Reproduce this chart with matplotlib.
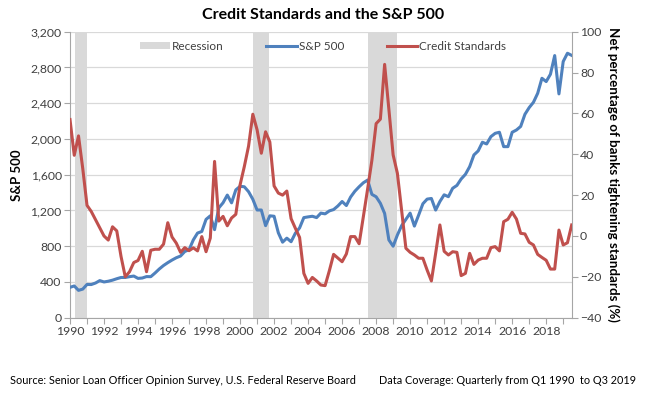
import matplotlib
matplotlib.use("Agg")
import matplotlib.pyplot as plt
from matplotlib.patches import Patch
from matplotlib.lines import Line2D
import numpy as np
import pandas as pd

plt.rcParams['font.family'] = ['Lato', 'DejaVu Sans']

# Quarterly periods Q1 1990 .. Q3 2019
quarters = pd.period_range('1990Q1', '2019Q3', freq='Q')

sp500 = [340, 355, 306, 320,
         372, 371, 388, 415,
         400, 408, 420, 436,
         450, 450, 459, 466,
         440, 444, 460, 459,
         500, 545, 584, 616,
         645, 671, 690, 741,
         760, 870, 947, 965,
         1100, 1140, 985, 1229,
         1286, 1372, 1285, 1430,
         1470, 1465, 1410, 1325,
         1205, 1205, 1030, 1140,
         1135, 950, 845, 890,
         850, 945, 1005, 1120,
         1128, 1135, 1120, 1170,
         1162, 1195, 1210, 1250,
         1300, 1255, 1350, 1415,
         1465, 1510, 1540, 1380,
         1353, 1280, 1167, 870,
         800, 925, 1030, 1100,
         1170, 1025, 1148, 1275,
         1327, 1334, 1204, 1300,
         1375, 1354, 1448, 1480,
         1552, 1604, 1690, 1821,
         1866, 1963, 1944, 2026,
         2063, 2075, 1914, 1914,
         2075, 2100, 2140, 2276,
         2351, 2410, 2511, 2679,
         2642, 2724, 2933, 2504,
         2866, 2959, 2935]

credit = [57, 39.5, 49, 33,
          15, 12, 8, 4,
          0, -2, 4.5, 2.5,
          -10, -20, -17.5, -13,
          -12, -7.5, -17.5, -7,
          -6.5, -6.5, -4, 6.5,
          -0.5, -3.5, -8, -5.7,
          -7.2, -5.8, -7.3, -0.3,
          -7.7, -1, 36.5, 7.3,
          9.6, 5, 8.8, 10.6,
          25, 34, 44, 59.6,
          52, 40.5, 51, 46,
          24.5, 21, 20, 22,
          8.5, 3.8, -0.7, -18.3,
          -23.2, -20.3, -22, -24,
          -24.3, -17, -9, -10.8,
          -12.6, -8.8, -0.3, -0.3,
          -3.8, 9.5, 23, 37,
          55, 57.2, 84, 62,
          39.7, 30.7, 12.5, -6,
          -8, -9.3, -10.9, -10.9,
          -16.7, -22, -8.5, 5.4,
          -7.5, -9.3, -7.7, -8,
          -19.4, -18.3, -8.5, -13.9,
          -11.8, -10.9, -10.9, -5.7,
          -5.2, -7.3, 7, 8.2,
          11.6, 8.3, 1.3, 1,
          -3.1, -4.4, -9, -10.5,
          -11.9, -16.2, -16.2, 2.9,
          -4.4, -3.3, 5.4]

recession_start = [1990.3, 2000.78, 2007.5]
recession_end = [1991.0, 2001.72, 2009.22]

x_year_ticks = list(range(1990, 2020))
x_labels = [str(y) if y % 2 == 0 else '' for y in x_year_ticks]
left_ticks = [0, 400, 800, 1200, 1600, 2000, 2400, 2800, 3200]
right_ticks = [-40, -20, 0, 20, 40, 60, 80, 100]

xs = np.array([q.year + (q.quarter - 1) / 4 for q in quarters])

BLUE = '#4F81BD'
RED = '#C0504D'
GREY = '#D9D9D9'
AXC = '#A6A6A6'
TXT = '#404040'

fig = plt.figure(figsize=(6.46, 3.98), dpi=100)
ax = fig.add_axes([70/646, 1-317.7/398, (571.7-70)/646, (317.7-31.7)/398])
ax2 = ax.twinx()

for s, e in zip(recession_start, recession_end):
    ax.axvspan(s, e, color=GREY, lw=0, zorder=1)

ax.plot(xs, sp500, color=BLUE, lw=2.2, zorder=3, solid_joinstyle='round')
ax2.plot(xs, credit, color=RED, lw=2.2, zorder=3, solid_joinstyle='round')

ax.set_xlim(1990, 2019.5)
ax.set_ylim(0, 3200)
ax2.set_ylim(-40, 100)

ax.set_yticks(left_ticks)
ax.set_yticklabels([f'{v:,}' for v in left_ticks])
ax2.set_yticks(right_ticks)
ax.set_xticks(x_year_ticks)
ax.set_xticklabels(x_labels)

ax.grid(axis='y', color=GREY, lw=0.9, zorder=0)
ax.set_axisbelow(True)

for a in (ax, ax2):
    for sp in a.spines.values():
        sp.set_visible(False)
ax.spines['bottom'].set_visible(True)
ax.spines['bottom'].set_color(AXC)
ax.spines['left'].set_visible(True)
ax.spines['left'].set_color(AXC)
ax2.spines['right'].set_visible(True)
ax2.spines['right'].set_color(AXC)

ax.tick_params(axis='x', direction='out', length=4, color=AXC, labelsize=8.8,
               labelcolor=TXT, pad=2)
ax.tick_params(axis='y', direction='out', length=4, color=AXC, labelsize=8.8,
               labelcolor=TXT, pad=2)
ax2.tick_params(axis='y', direction='out', length=4, color=AXC, labelsize=8.8,
                labelcolor=TXT, pad=2)

ax.set_ylabel('S&P 500', fontsize=9.5, fontweight='bold', color='black', labelpad=5)
ax2.set_ylabel('Net percentage of banks tightening standards (%)', fontsize=9.6,
               fontweight='bold', color='black', rotation=-90, labelpad=13)

fig.text(0.5, 1-15/398, 'Credit Standards and the S&P 500', ha='center', va='center',
         fontsize=11.5, fontweight='bold', color='black')

handles = [Patch(facecolor=GREY, edgecolor='none'),
           Line2D([0], [0], color=BLUE, lw=2.2),
           Line2D([0], [0], color=RED, lw=2.2)]
leg = fig.legend(handles, ['Recession', 'S&P 500', 'Credit Standards'],
                 loc='center', bbox_to_anchor=(0.5, 1-46/398), ncol=3, frameon=False,
                 fontsize=8.5, handlelength=2.6, handleheight=0.6, handletextpad=0.15,
                 columnspacing=3.6)
for t in leg.get_texts():
    t.set_color(TXT)

fig.text(10/646, 1-380/398, 'Source: Senior Loan Officer Opinion Survey, U.S. Federal Reserve Board',
         ha='left', va='center', fontsize=7.8, color='black')
fig.text(636/646, 1-380/398, 'Data Coverage: Quarterly from Q1 1990  to Q3 2019',
         ha='right', va='center', fontsize=7.8, color='black')

fig.savefig('out.png', dpi=100)
